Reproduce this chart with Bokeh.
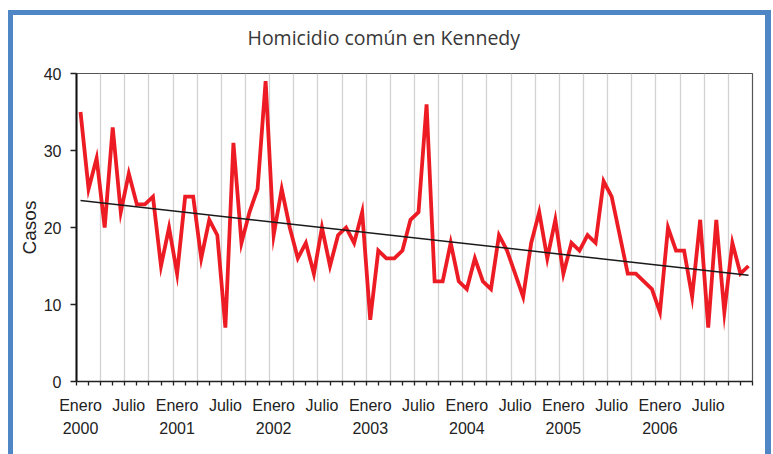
from bokeh.plotting import figure
from bokeh.models import Range1d, FixedTicker
from bokeh.embed import file_html
from bokeh.resources import INLINE

title_text = "Homicidio común en Kennedy"
y_label = "Casos"

# monthly cases, Jan 2000 .. Dec 2006
casos = [35, 25, 29, 20, 33, 22, 27, 23, 23, 24, 15, 20,
         14, 24, 24, 16, 21, 19, 7, 31, 18, 22, 25, 39,
         19, 25, 20, 16, 18, 14, 20, 15, 19, 20, 18, 22,
         8, 17, 16, 16, 17, 21, 22, 36, 13, 13, 18, 13,
         12, 16, 13, 12, 19, 17, 14, 11, 18, 22, 16, 21,
         14, 18, 17, 19, 18, 26, 24, 19, 14, 14, 13, 12,
         9, 20, 17, 17, 11, 21, 7, 21, 9, 18, 14, 15]
month_index = list(range(len(casos)))

# linear trend endpoints
trend_x = [0, 83]
trend_y = [23.5, 13.8]

tick_positions = [0, 6, 12, 18, 24, 30, 36, 42, 48, 54, 60, 66, 72, 78]
tick_labels = ["Enero\n2000", "Julio", "Enero\n2001", "Julio", "Enero\n2002", "Julio",
               "Enero\n2003", "Julio", "Enero\n2004", "Julio", "Enero\n2005", "Julio",
               "Enero\n2006", "Julio"]
y_ticks = [0, 10, 20, 30, 40]

minor_positions = [-0.5 + 1.5 * k for k in range(57)]
grid_positions = [2.5 + 3 * k for k in range(27)]

BLUE = "#4F86C6"

p = figure(width=773, height=454,
           x_range=Range1d(-0.5, 83.5), y_range=Range1d(0, 40),
           output_backend="svg", toolbar_location=None,
           min_border_left=76, min_border_right=21,
           min_border_top=73, min_border_bottom=73)

p.background_fill_color = "white"
p.border_fill_color = None
p.outline_line_color = "#555555"
p.outline_line_width = 1.2

# outer blue frame drawn as CSS background behind the transparent border area
grad = f"linear-gradient({BLUE},{BLUE})"
p.styles = {
    "background": (f"{grad} 8px 10px / 5px 600px no-repeat, "
                   f"{grad} 8px 10px / 763px 5px no-repeat, "
                   f"{grad} 765px 10px / 6px 600px no-repeat, white"),
}

# title
p.title.text = title_text
p.title.align = "left"
p.title.offset = 171
p.title.text_font = "Open Sans"
p.title.text_font_size = "19.5px"
p.title.text_font_style = "normal"
p.title.text_color = "#383838"
p.title.vertical_align = "top"
p.title.standoff = 42

# x axis
xa = p.xaxis[0]
xa.ticker = FixedTicker(ticks=tick_positions, minor_ticks=minor_positions)
xa.major_label_overrides = {k: v for k, v in zip(tick_positions, tick_labels)}
xa.major_tick_line_color = None
xa.major_tick_out = 0
xa.major_tick_in = 0
xa.minor_tick_out = 4
xa.minor_tick_in = 0
xa.minor_tick_line_color = "#222222"
xa.minor_tick_line_width = 1.3
xa.axis_line_color = "#222222"
xa.axis_line_width = 1.6
xa.major_label_text_font = "Liberation Sans"
xa.major_label_text_font_size = "16px"
xa.major_label_text_color = "#222222"
xa.major_label_text_line_height = 1.4
xa.major_label_standoff = 11

# y axis
ya = p.yaxis[0]
ya.ticker = FixedTicker(ticks=y_ticks)
ya.minor_tick_line_color = None
ya.major_tick_out = 6
ya.major_tick_in = 0
ya.major_tick_line_color = "#222222"
ya.major_tick_line_width = 1.3
ya.axis_line_color = "#111111"
ya.axis_line_width = 2
ya.major_label_text_font = "Liberation Sans"
ya.major_label_text_font_size = "16px"
ya.major_label_text_color = "#222222"
ya.major_label_standoff = 9
ya.axis_label = y_label
ya.axis_label_text_font = "Liberation Sans"
ya.axis_label_text_font_size = "19px"
ya.axis_label_text_font_style = "normal"
ya.axis_label_text_color = "#222222"
ya.axis_label_standoff = 1

# grids
p.xgrid.ticker = FixedTicker(ticks=grid_positions)
p.xgrid.grid_line_color = "#d2d2d2"
p.xgrid.grid_line_width = 1.3
p.ygrid.visible = False

# data
p.line(month_index, casos, line_color="#ED1C24", line_width=3.8, line_join="miter")
p.line(trend_x, trend_y, line_color="#1a1a1a", line_width=1.5)

open("out.html", "w").write(file_html(p, INLINE))
